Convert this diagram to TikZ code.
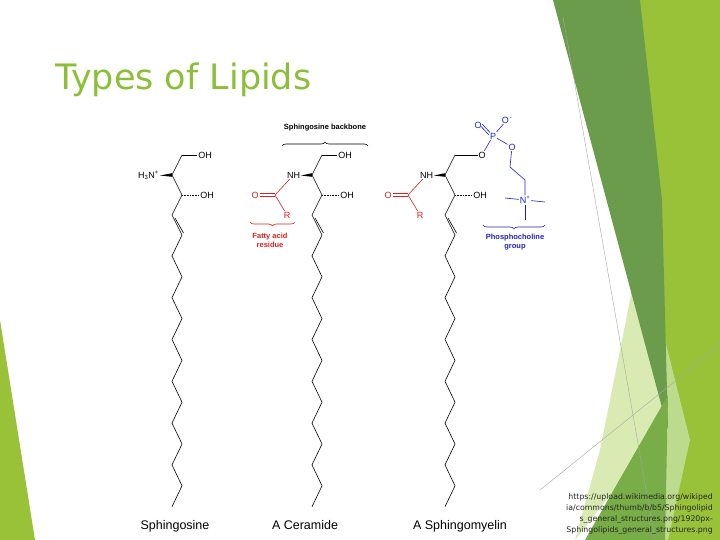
\documentclass[tikz,border=0pt]{standalone}
\usepackage{fontspec}
\setmainfont{Liberation Sans}
\newfontfamily\titlefont{DejaVu Sans}
\usetikzlibrary{calc,decorations.pathreplacing}
\definecolor{lime}{rgb}{0.60,0.76,0.22}
\definecolor{dkgreen}{rgb}{0.42,0.61,0.30}
\definecolor{mdgreen}{rgb}{0.47,0.68,0.28}
\definecolor{pale}{rgb}{0.85,0.92,0.70}
\definecolor{pale2}{rgb}{0.74,0.86,0.55}
\definecolor{titlegreen}{rgb}{0.55,0.75,0.22}
\definecolor{chemred}{rgb}{0.85,0.12,0.12}
\definecolor{chemblue}{rgb}{0.12,0.12,0.78}
\tikzset{
  atom/.style={inner sep=0.8pt,font=\fontsize{9}{10}\selectfont},
  bond/.style={line width=0.6pt},
  brlabel/.style={font=\bfseries\fontsize{7.5}{9}\selectfont,align=center},
  caption/.style={anchor=base,font=\fontsize{12.5}{14}\selectfont},
  brc/.style={decorate,decoration={brace,amplitude=4pt},line width=0.6pt},
}
\begin{document}
\begin{tikzpicture}[x=1pt,y=-1pt]
\useasboundingbox (0,0) rectangle (720,540);
% decorations
\fill[lime] (0,320) -- (35,540) -- (0,540) -- cycle;
\fill[lime] (637,0) -- (720,0) -- (720,540) -- (655,540) -- (668,430) -- cycle;
\fill[pale] (640,250) -- (668,420) -- (575,540) -- (600,450) -- cycle;
\fill[pale2] (655,300) -- (690,440) -- (668,540) -- (640,540) -- (668,430) -- cycle;
\fill[dkgreen] (553,0) -- (640,0) -- (662,200) -- (668,430) -- cycle;
\fill[mdgreen] (585,540) -- (668,395) -- (665,540) -- cycle;
\draw[gray!70,line width=0.4pt] (563,17) -- (655,540);
\draw[gray!70,line width=0.4pt] (540,490) -- (720,345);
% title
\node[anchor=base west,inner sep=0,text=titlegreen,font=\titlefont\fontsize{35}{40}\selectfont] (title) at (55,90) {Types of Lipids};
% backbones
\foreach \L/\p in {172/s,312/c,445/m}{
  \coordinate (\p1) at (\L,175);
  \coordinate (\p t) at (\L+10,155);
  \coordinate (\p2) at (\L+10,195);
  \coordinate (\p3) at (\L,215);
  \coordinate (\p4) at (\L+10,235);
  \draw[bond] (\p t) -- (\p1) -- (\p2) -- (\p3) -- (\p4);
  \draw[bond] ($(\p3)+(3,3)$) -- ($(\p4)+(1.5,-2)$);
  \node[atom] (\p oh) at (\L+35,195) {OH};
  \draw[bond,densely dotted] (\p2) -- (\p oh.west);
  \draw[bond] (\p4) \foreach \k in {1,...,13}{ -- ({\L+10*mod(\k+1,2)},{235+20.9*\k}) };
}
\node[atom] (stopoh) at (205,155) {OH};
\draw[bond] (st) -- (stopoh.west);
\node[atom] (ctopoh) at (345,155) {OH};
\draw[bond] (ct) -- (ctopoh.west);
% N groups
\node[atom,anchor=east] (sN) at (160,175) {H\textsubscript{3}N\textsuperscript{+}};
\node[atom,anchor=east] (cN) at (301,175) {NH};
\node[atom,anchor=east] (mN) at (434,175) {NH};
\foreach \p in {s,c,m}{
  \fill ($(\p N.east)+(0,0.5)$) -- ($(\p1)+(0,1.8)$) -- ($(\p1)+(0,-1.8)$) -- cycle;
}
% acyl groups
\foreach \p/\x in {c/275,m/408}{
  \coordinate (\p C) at (\x,195);
  \node[atom,text=chemred] (\p O) at (\x-20,195) {O};
  \node[atom,text=chemred] (\p R) at (\x+12,215) {R};
  \draw[bond,chemred] (\p N) -- (\p C);
  \draw[bond,chemred] ($(\p C)+(0,-1.5)$) -- ($(\p O.east)+(0,-1.5)$);
  \draw[bond,chemred] ($(\p C)+(0,1.5)$) -- ($(\p O.east)+(0,1.5)$);
  \draw[bond,chemred] (\p C) -- (\p R);
}
% phosphocholine
\begin{scope}[chemblue]
\node[atom,text=black] (mO1) at (482,155) {O};
\draw[bond,black] (mt) -- (mO1.west);
\node[atom] (mP) at (493,136) {P};
\node[atom] (mO2) at (478,125) {O};
\node[atom] (mO3) at (507,120) {O\textsuperscript{\,-}};
\node[atom] (mO4) at (512,147) {O};
\draw[bond] (mO1) -- (mP);
\draw[bond] ($(mP)+(-4,-1)$) -- ($(mO2)+(3,1.5)$);
\draw[bond] ($(mP)+(-3,-3.5)$) -- ($(mO2)+(4,-1)$);
\draw[bond] (mP) -- (mO3);
\draw[bond] (mP) -- (mO4);
\coordinate (mch1) at (510,167);
\coordinate (mch2) at (525,180);
\node[atom] (mNp) at (525,200) {N\textsuperscript{+}};
\draw[bond] (mO4) -- (mch1) -- (mch2) -- (mNp);
\coordinate (me1) at (505,198);
\coordinate (me2) at (545,202);
\coordinate (me3) at (525,220);
\draw[bond] (mNp) -- (me1);
\draw[bond] (mNp) -- (me2);
\draw[bond] (mNp) -- (me3);
\end{scope}
% braces
\coordinate (b1a) at (282,146); \coordinate (b1b) at (368,146);
\draw[brc] (b1a) -- (b1b);
\node[brlabel] (bl1) at (325,128) {Sphingosine backbone};
\coordinate (b2a) at (250,222); \coordinate (b2b) at (295,222);
\draw[brc,chemred] (b2b) -- (b2a);
\node[brlabel,text=chemred] (bl2) at (270,240) {Fatty acid\\residue};
\coordinate (b3a) at (483,225); \coordinate (b3b) at (545,225);
\draw[brc,chemblue] (b3b) -- (b3a);
\node[brlabel,text=chemblue] (bl3) at (515,242) {Phosphocholine\\group};
% captions
\node[caption] (cap1) at (175,529) {Sphingosine};
\node[caption] (cap2) at (305,529) {A Ceramide};
\node[caption] (cap3) at (460,529) {A Sphingomyelin};
% url
\node[anchor=east,align=right,inner sep=0,text=black!85,font=\titlefont\fontsize{7.8}{10.8}\selectfont] (url) at (713,514) {https://upload.wikimedia.org/wikiped\\ia/commons/thumb/b/b5/Sphingolipid\\s\_general\_structures.png/1920px-\\Sphingolipids\_general\_structures.png};
\end{tikzpicture}
\end{document}
